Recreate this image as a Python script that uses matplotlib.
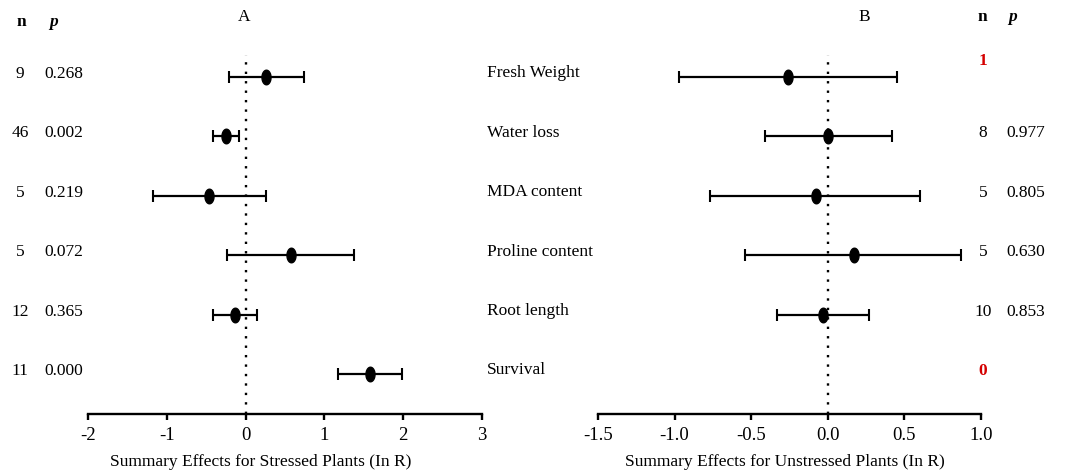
import matplotlib
matplotlib.use("Agg")
import matplotlib.pyplot as plt
import matplotlib.transforms as mtransforms
from matplotlib.path import Path
import numpy as np

plt.rcParams['font.family'] = ['Liberation Serif', 'DejaVu Serif']
plt.rcParams['font.size'] = 12.5

# data
traits = ["Fresh Weight", "Water loss", "MDA content", "Proline content",
          "Root length", "Survival"]

# A: stressed plants
a_mean = [0.26, -0.25, -0.46, 0.57, -0.14, 1.58]
a_low = [-0.21, -0.42, -1.18, -0.24, -0.42, 1.17]
a_high = [0.74, -0.09, 0.26, 1.37, 0.15, 1.98]
a_n = ["9", "46", "5", "5", "12", "11"]
a_p = ["0.268", "0.002", "0.219", "0.072", "0.365", "0.000"]

# B: unstressed plants (no estimate for survival)
b_mean = [-0.26, 0.00, -0.08, 0.17, -0.03, np.nan]
b_low = [-0.97, -0.41, -0.77, -0.54, -0.33, np.nan]
b_high = [0.45, 0.42, 0.60, 0.87, 0.27, np.nan]
b_n = ["1", "8", "5", "5", "10", "0"]
b_p = ["", "0.977", "0.805", "0.630", "0.853", ""]

a_ticks = [-2, -1, 0, 1, 2, 3]
a_ticklabels = ["-2", "-1", "0", "1", "2", "3"]
b_ticks = [-1.5, -1.0, -0.5, 0.0, 0.5, 1.0]
b_ticklabels = ["-1.5", "-1.0", "-0.5", "0.0", "0.5", "1.0"]

W, H = 1070, 471
fig = plt.figure(figsize=(W / 100, H / 100), dpi=100)

# tall ellipse marker
t = np.linspace(0, 2 * np.pi, 60)
ellipse = Path(np.column_stack([0.62 * np.cos(t), np.sin(t)]))

row0, step = 77, 59.4
axis_y = 414
top_y = 40
ylim = ((axis_y - row0) / step, (top_y - row0) / step)
dot_top = (55 - row0) / step


def panel(x0, x1, lims, mean, low, high, ticks, ticklabels):
    ax = fig.add_axes([x0 / W, (H - axis_y) / H, (x1 - x0) / W, (axis_y - top_y) / H])
    rows = np.arange(len(mean))
    mean = np.array(mean)
    err = [mean - np.array(low), np.array(high) - mean]
    ax.errorbar(mean, rows, xerr=err, fmt='none', ecolor='black',
                elinewidth=1.6, capsize=4.5, capthick=1.5)
    ax.plot(mean, rows, linestyle='none', marker=ellipse, markersize=10.5,
            color='black')
    ax.plot([0, 0], [ylim[0], dot_top], color='black', lw=1.7,
            linestyle=(0, (1, 3)))
    ax.set_xlim(*lims)
    ax.set_ylim(*ylim)
    ax.set_xticks(ticks)
    ax.set_xticklabels(ticklabels)
    ax.set_yticks([])
    for s in ['left', 'right', 'top']:
        ax.spines[s].set_visible(False)
    ax.spines['bottom'].set_linewidth(1.7)
    ax.tick_params(axis='x', direction='out', length=4, width=1.7, pad=5,
                   labelsize=13.5)
    ax.patch.set_alpha(0)
    return ax


ax_a = panel(88, 482, (-2, 3), a_mean, a_low, a_high, a_ticks, a_ticklabels)
ax_b = panel(598, 981, (-1.5, 1.0), b_mean, b_low, b_high, b_ticks, b_ticklabels)

fig.text(261 / W, 1 - 462 / H, "Summary Effects for Stressed Plants (In R)",
         ha='center', va='center', fontsize=12.5)
fig.text(785 / W, 1 - 462 / H, "Summary Effects for Unstressed Plants (In R)",
         ha='center', va='center', fontsize=12.5)

fig.text(244 / W, 1 - 17 / H, "A", ha='center', va='center', fontsize=12.5)
fig.text(864 / W, 1 - 17 / H, "B", ha='center', va='center', fontsize=12.5)

# column headers
fig.text(21 / W, 1 - 22 / H, "n", ha='center', va='center', fontweight='bold')
fig.text(54 / W, 1 - 22 / H, "p", ha='center', va='center', fontweight='bold',
         style='italic')
fig.text(982 / W, 1 - 17 / H, "n", ha='center', va='center', fontweight='bold')
fig.text(1013 / W, 1 - 17 / H, "p", ha='center', va='center', fontweight='bold',
         style='italic')

tr = mtransforms.blended_transform_factory(fig.transFigure, ax_a.transData)
for i in range(len(traits)):
    y = i - 0.05
    fig.text(20 / W, y, a_n[i], transform=tr, ha='center', va='center')
    fig.text(64 / W, y, a_p[i], transform=tr, ha='center', va='center')
    fig.text(487 / W, i - 0.06, traits[i], transform=tr, ha='left', va='center')
    if b_p[i]:
        fig.text(983 / W, y, b_n[i], transform=tr, ha='center', va='center')
        fig.text(1026 / W, y, b_p[i], transform=tr, ha='center', va='center')
    else:
        # studies too few for a p value: count shown in red
        yb = y - 0.22 if i == 0 else y
        fig.text(983 / W, yb, b_n[i], transform=tr, ha='center', va='center',
                 color='#d40000', fontweight='bold')

fig.savefig("out.png", dpi=100)
